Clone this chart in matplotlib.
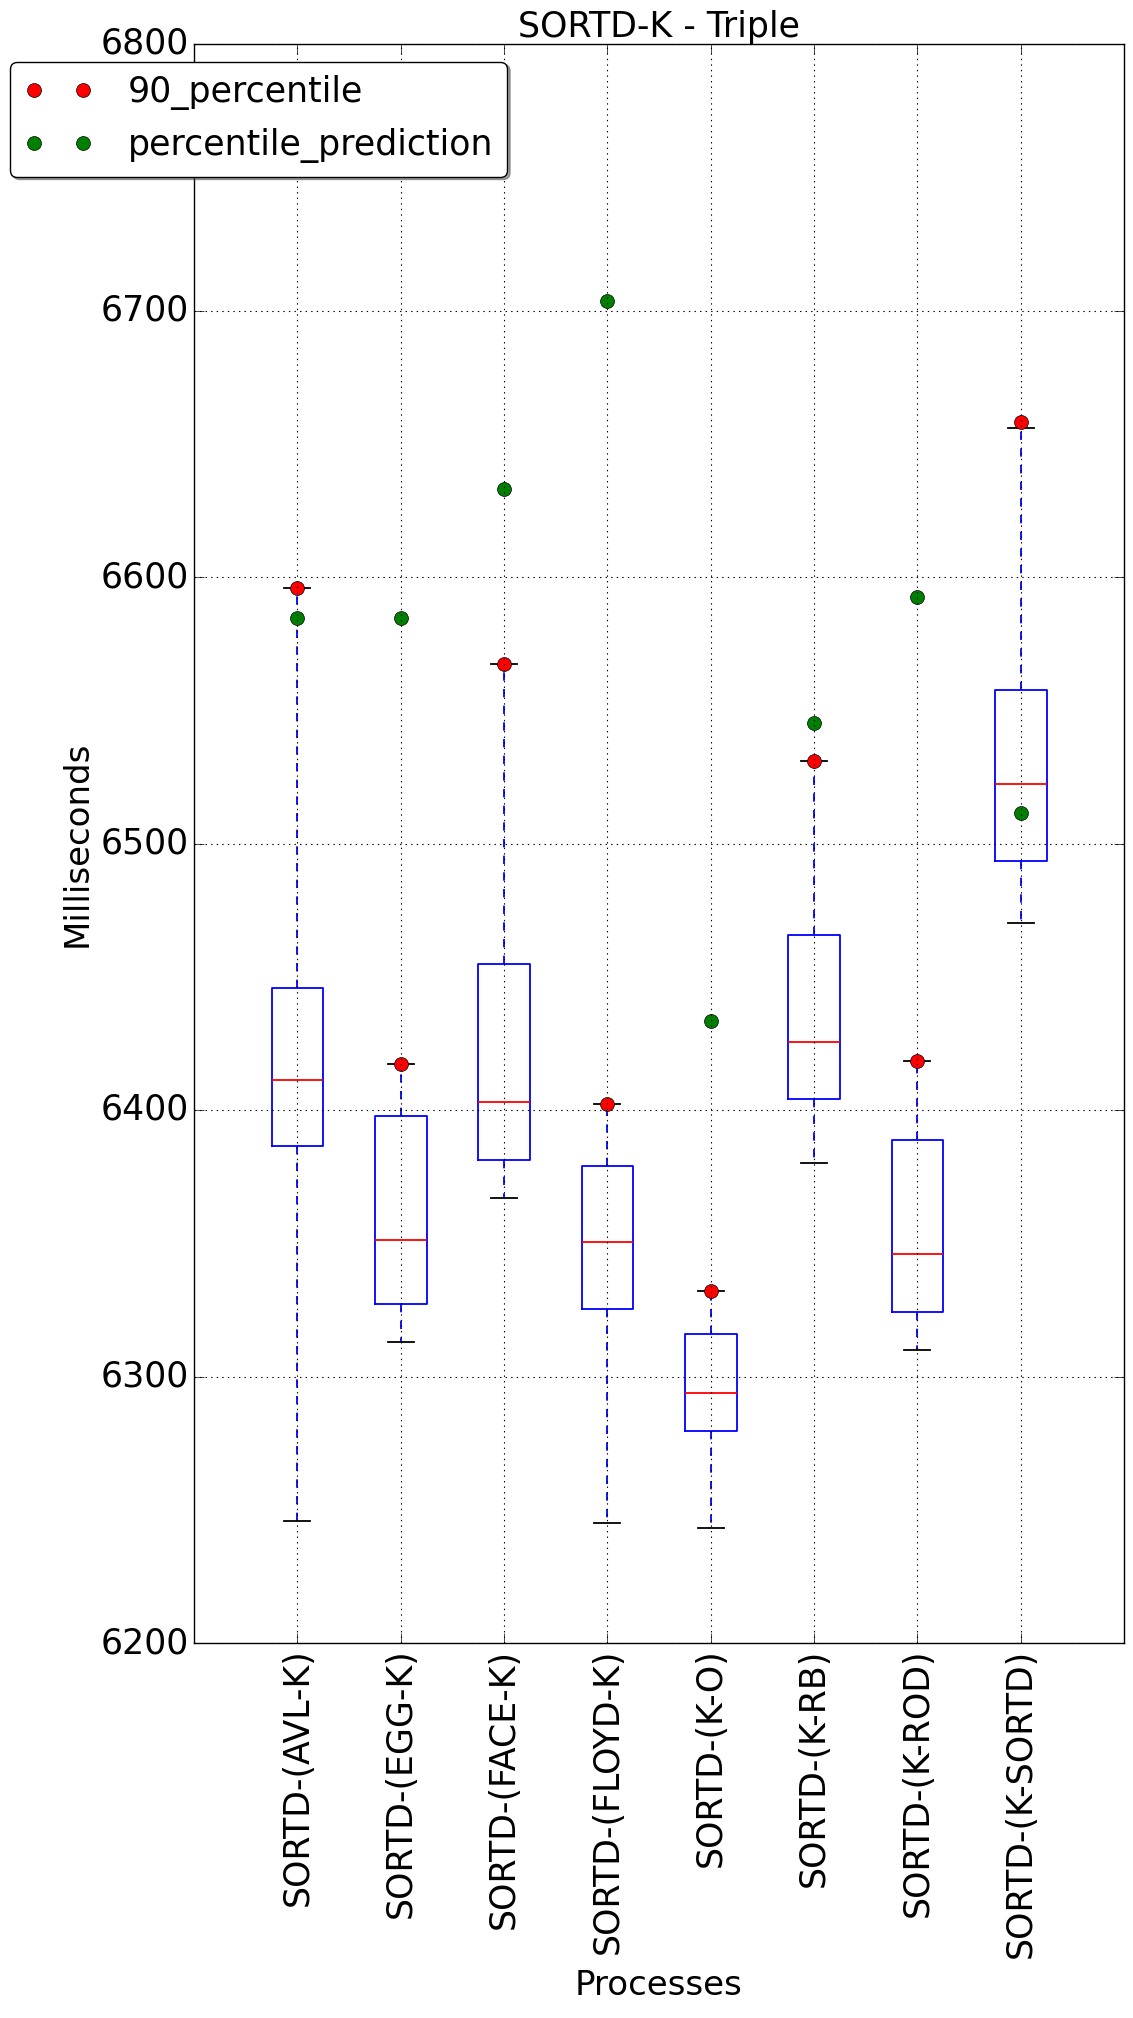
import matplotlib
matplotlib.use("Agg")
import matplotlib.pyplot as plt

plt.style.use("classic")

categories = ["SORTD-(AVL-K)", "SORTD-(EGG-K)", "SORTD-(FACE-K)", "SORTD-(FLOYD-K)",
              "SORTD-(K-O)", "SORTD-(K-RB)", "SORTD-(K-ROD)", "SORTD-(K-SORTD)"]
whisker_low = [6245.9, 6313.0, 6366.9, 6244.9, 6243.0, 6380.1, 6309.8, 6470.2]
q1 = [6386.5, 6327.1, 6381.3, 6325.3, 6279.7, 6404.2, 6324.2, 6493.3]
median = [6411.3, 6351.2, 6403.0, 6350.4, 6293.9, 6425.6, 6345.9, 6522.5]
q3 = [6445.7, 6397.7, 6454.7, 6379.0, 6315.8, 6465.8, 6388.9, 6557.7]
whisker_high = [6596.0, 6417.2, 6567.2, 6402.4, 6332.1, 6531.1, 6418.4, 6656.0]
percentile_90 = [6596.0, 6417.2, 6567.2, 6402.4, 6332.1, 6531.1, 6418.4, 6658.2]
percentile_prediction = [6584.5, 6584.7, 6632.9, 6703.4, 6433.3, 6545.3, 6592.5, 6511.6]

fig = plt.figure(figsize=(11.33, 20.18), dpi=100)
fig.patch.set_facecolor("white")
W, H = 1133.0, 2018.0
left, right, top, bottom = 194, 1124, 44, 1643
ax = fig.add_axes([left / W, 1 - bottom / H, (right - left) / W, (bottom - top) / H])

stats = []
for i, name in enumerate(categories):
    stats.append(dict(label=name, whislo=whisker_low[i], q1=q1[i], med=median[i],
                      q3=q3[i], whishi=whisker_high[i], fliers=[]))

positions = list(range(1, len(categories) + 1))
ax.bxp(stats, positions=positions, widths=0.5, showfliers=False,
       boxprops=dict(color="blue", linewidth=1.3),
       medianprops=dict(color="red", linewidth=1.3),
       whiskerprops=dict(color="blue", linestyle="--", linewidth=1.3),
       capprops=dict(color="black", linewidth=1.3))

ax.plot(positions, percentile_90, "o", color="red", markersize=10,
        markeredgecolor="black", markeredgewidth=0.5, linestyle="none",
        label="90_percentile")
ax.plot(positions, percentile_prediction, "o", color="green", markersize=10,
        markeredgecolor="black", markeredgewidth=0.5, linestyle="none",
        label="percentile_prediction")

ax.set_xlim(0, 9)
ax.set_ylim(6200, 6800)
ax.set_yticks([6200, 6300, 6400, 6500, 6600, 6700, 6800])
ax.set_xticks(positions)
ax.set_xticklabels(categories, rotation=90, fontsize=25)
ax.tick_params(axis="y", labelsize=25)
ax.tick_params(axis="both", direction="in", length=7)
ax.grid(True, color="black", linestyle=":", linewidth=0.8)
ax.set_axisbelow(False)

ax.set_title("SORTD-K - Triple", fontsize=25)
ax.set_xlabel("Processes", fontsize=24.5, labelpad=8)
ax.set_ylabel("Milliseconds", fontsize=24.5)

leg = ax.legend(loc="upper left", bbox_to_anchor=(-0.198, 0.989), borderaxespad=0,
                numpoints=2, fontsize=25, fancybox=True, shadow=True, frameon=True,
                handletextpad=1.0)
leg.get_frame().set_edgecolor("black")

fig.savefig("out.png", dpi=100, facecolor="white")
